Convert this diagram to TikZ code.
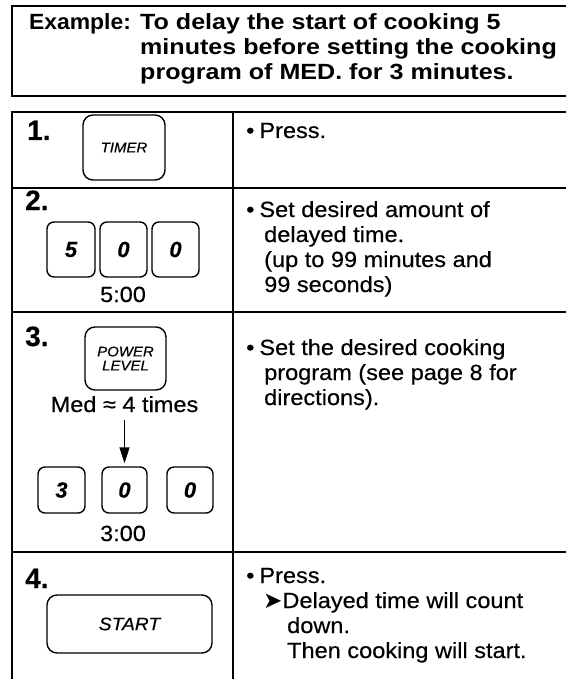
\documentclass[tikz,border=0pt]{standalone}
\usepackage{fontspec}
\setmainfont{Liberation Sans}[FakeBold=0.3]
\newfontfamily\bodyf{Liberation Sans}[FakeStretch=1.07, FakeBold=0.4]
\newfontfamily\headf{Liberation Sans}[FakeStretch=1.14]
\newfontfamily\exf{Liberation Sans}[FakeStretch=1.04]
\newfontfamily\symf{DejaVu Sans}
\usetikzlibrary{arrows.meta}
\tikzset{
  rule/.style={line width=1.4pt, line cap=rect},
  btn/.style={draw, line width=1.4pt, rounded corners=10pt, inner sep=0pt},
  key/.style={btn, font=\bodyf\fontsize{14}{16}\selectfont\itshape, align=center},
  digit/.style={btn, rounded corners=7pt, font=\fontsize{22}{24}\selectfont\bfseries\itshape},
  txt/.style={anchor=base west, inner sep=0pt, font=\bodyf\fontsize{22}{25}\selectfont},
  ctr/.style={anchor=base, inner sep=0pt, font=\bodyf\fontsize{22}{25}\selectfont},
  head/.style={anchor=base west, inner sep=0pt, font=\headf\fontsize{22}{25}\selectfont\bfseries},
  num/.style={anchor=base west, inner sep=0pt, font=\fontsize{28}{30}\selectfont\bfseries},
  flow/.style={line width=1.5pt, -{Triangle[length=16pt,width=10pt]}},
}
\begin{document}
\begin{tikzpicture}[x=1pt,y=-1pt]
\useasboundingbox (0,0) rectangle (565,679);
% header box (open at the right edge)
\draw[rule] (565,6) -- (12,6) -- (12,96) -- (565,96);
\node[anchor=base west, inner sep=0pt, font=\exf\fontsize{22}{25}\selectfont\bfseries] (ex) at (29,30) {Example:};
\node[head] (h1) at (140,30) {To delay the start of cooking 5};
\node[head] (h2) at (140,55) {minutes before setting the cooking};
\node[head] (h3) at (140,80) {program of MED. for 3 minutes.};
% table (open at the right edge and bottom)
\draw[rule] (12,679) -- (12,112) -- (565,112);
\draw[rule] (233,112) -- (233,679);
\draw[rule] (12,188) -- (565,188);
\draw[rule] (12,312) -- (565,312);
\draw[rule] (12,552) -- (565,552);
% step 1
\node[num] (n1) at (27,140) {1.};
\node[key, minimum width=82pt, minimum height=65pt] (timer) at (124,147.5) {TIMER};
\node[txt] (p1) at (246,138) {•\kern5pt Press.};
% step 2
\node[num] (n2) at (25,210) {2.};
\node[digit, minimum width=48pt, minimum height=55pt] (d5) at (71,249.5) {5};
\node[digit, minimum width=47pt, minimum height=55pt] (d0a) at (123.5,249.5) {0};
\node[digit, minimum width=47pt, minimum height=55pt] (d0b) at (175.5,249.5) {0};
\node[ctr] (t500) at (123,302) {5:00};
\node[txt] (s2a) at (246,217) {•\kern5pt Set desired amount of};
\node[txt] (s2b) at (264,242) {delayed time.};
\node[txt] (s2c) at (264,267) {(up to 99 minutes and};
\node[txt] (s2d) at (264,292) {99 seconds)};
% step 3
\node[num] (n3) at (25,346) {3.};
\node[key, minimum width=81pt, minimum height=63pt] (power) at (125.5,358.5) {POWER\\[-2pt]LEVEL};
\node[ctr] (med) at (124.5,412) {Med ≈ 4 times};
\node[digit, minimum width=47pt, minimum height=46pt] (d3) at (61.5,490) {3};
\node[digit, minimum width=45pt, minimum height=46pt] (d0c) at (124.5,490) {0};
\node[digit, minimum width=46pt, minimum height=46pt] (d0d) at (190,490) {0};
\node[ctr] (t300) at (123,541) {3:00};
\draw[flow, shorten <=8pt, shorten >=3pt] (med.south) -- (d0c.north);
\node[txt] (s3a) at (246,355) {•\kern5pt Set the desired cooking};
\node[txt] (s3b) at (264,380) {program (see page 8 for};
\node[txt] (s3c) at (264,405) {directions).};
% step 4
\node[num] (n4) at (25,588) {4.};
\node[btn, minimum width=165pt, minimum height=58pt, font=\bodyf\fontsize{18}{20}\selectfont\itshape] (start) at (129.5,624) {START};
\node[txt] (s4a) at (246,583) {•\kern5pt Press.};
\node[txt] (s4b) at (263,608) {{\symf\fontsize{23}{25}\selectfont ➤}Delayed time will count};
\node[txt] (s4c) at (287,633) {down.};
\node[txt] (s4d) at (287,658) {Then cooking will start.};
\end{tikzpicture}
\end{document}
